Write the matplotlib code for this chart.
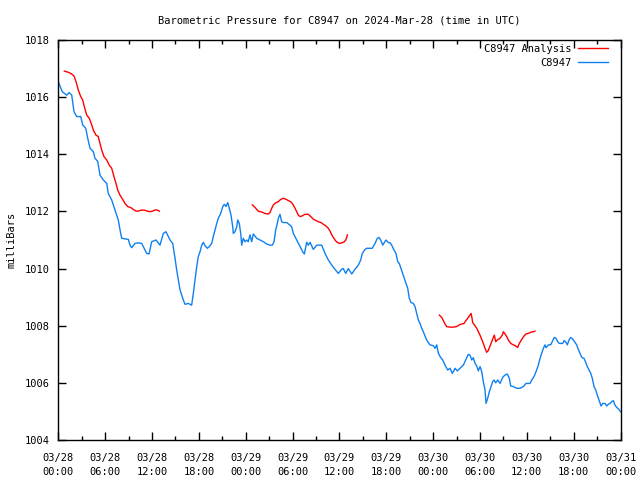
import matplotlib
matplotlib.use("Agg")
import matplotlib.pyplot as plt
from matplotlib.ticker import MultipleLocator

# hours since 2024-03-28 00:00 UTC
obs_hours = [0.0, 0.51, 1.08, 1.37, 1.72, 2.01, 2.36, 2.87, 3.12, 3.51, 3.77, 4.06, 4.48, 4.70, 5.05, 5.34,
             5.76, 6.20, 6.40, 6.84, 7.26, 7.68, 7.99, 8.12, 8.97, 9.18, 9.40, 9.82, 10.25, 10.68, 11.32,
             11.62, 11.96, 12.51, 13.02, 13.45, 13.79, 14.09, 14.31, 14.65, 14.95, 15.16, 15.37, 15.59,
             15.80, 16.01, 16.23, 16.65, 17.08, 17.29, 17.51, 17.73, 17.93, 18.15, 18.37, 18.57, 18.79,
             19.08, 19.34, 19.65, 19.85, 20.07, 20.29, 20.49, 20.80, 21.06, 21.26, 21.48, 21.70, 21.90,
             22.12, 22.34, 22.41, 22.63, 22.85, 22.98, 23.18, 23.36, 23.49, 23.69, 23.91, 24.13, 24.33,
             24.55, 24.77, 24.97, 25.41, 25.83, 26.26, 26.69, 27.11, 27.41, 27.63, 27.84, 28.05, 28.18,
             28.39, 28.61, 28.82, 29.25, 29.67, 29.89, 30.10, 30.53, 30.96, 31.30, 31.51, 31.81, 32.02,
             32.24, 32.66, 33.09, 33.73, 34.16, 34.58, 35.02, 35.44, 35.86, 36.30, 36.50, 36.81, 37.14,
             37.58, 37.99, 38.42, 38.73, 38.93, 39.28, 39.50, 40.21, 40.56, 40.86, 41.07, 41.29, 41.55,
             41.75, 41.97, 42.26, 42.48, 42.70, 42.99, 43.25, 43.47, 43.67, 43.89, 44.11, 44.31, 44.53,
             44.75, 44.95, 45.17, 45.47, 45.68, 45.90, 46.11, 46.32, 46.54, 46.75, 46.96, 47.18, 47.39,
             47.60, 48.03, 48.25, 48.46, 48.67, 48.89, 49.23, 49.53, 49.87, 50.17, 50.46, 50.81, 51.10,
             51.45, 51.87, 52.18, 52.51, 52.73, 52.95, 53.15, 53.37, 53.59, 53.79, 54.01, 54.23, 54.43,
             54.65, 54.78, 54.99, 55.20, 55.42, 55.63, 55.80, 56.02, 56.28, 56.57, 56.79, 56.99, 57.21,
             57.50, 57.76, 57.94, 58.27, 58.71, 59.13, 59.55, 59.90, 60.41, 60.63, 60.92, 61.18, 61.48,
             61.69, 61.91, 62.12, 62.33, 62.46, 62.76, 63.06, 63.32, 63.52, 63.74, 63.96, 64.16, 64.60,
             64.77, 65.02, 65.19, 65.44, 65.62, 65.88, 66.18, 66.39, 66.60, 66.82, 67.04, 67.33, 67.55,
             67.75, 67.97, 68.19, 68.39, 68.61, 68.83, 69.03, 69.25, 69.51, 69.72, 70.02, 70.23, 70.44,
             70.66, 70.87, 71.08, 71.30, 71.52, 71.81, 72.0]
obs_mb = [1016.54, 1016.19, 1016.07, 1016.16, 1016.07, 1015.49, 1015.32, 1015.32, 1015.03, 1014.91, 1014.56,
          1014.21, 1014.09, 1013.86, 1013.75, 1013.27, 1013.10, 1012.98, 1012.63, 1012.40, 1012.05, 1011.70,
          1011.23, 1011.06, 1011.02, 1010.82, 1010.73, 1010.88, 1010.90, 1010.88, 1010.53, 1010.51, 1010.94,
          1011.00, 1010.82, 1011.23, 1011.29, 1011.12, 1011.00, 1010.88, 1010.36, 1009.95, 1009.60, 1009.25,
          1009.07, 1008.90, 1008.75, 1008.78, 1008.72, 1009.13, 1009.60, 1010.07, 1010.42, 1010.59, 1010.82,
          1010.92, 1010.80, 1010.71, 1010.77, 1010.88, 1011.12, 1011.35, 1011.58, 1011.76, 1011.93, 1012.17,
          1012.25, 1012.17, 1012.31, 1012.11, 1011.87, 1011.46, 1011.23, 1011.29, 1011.46, 1011.70, 1011.58,
          1011.23, 1010.82, 1011.06, 1010.94, 1011.00, 1010.94, 1011.18, 1010.94, 1011.21, 1011.06, 1011.00,
          1010.94, 1010.86, 1010.82, 1010.82, 1010.94, 1011.35, 1011.58, 1011.76, 1011.90, 1011.64, 1011.61,
          1011.61, 1011.52, 1011.46, 1011.23, 1011.00, 1010.77, 1010.59, 1010.51, 1010.92, 1010.82, 1010.92,
          1010.67, 1010.82, 1010.82, 1010.53, 1010.30, 1010.12, 1009.97, 1009.83, 1009.98, 1010.00, 1009.83,
          1010.00, 1009.81, 1009.97, 1010.12, 1010.30, 1010.53, 1010.67, 1010.71, 1010.71, 1010.88, 1011.06,
          1011.09, 1011.00, 1010.82, 1010.91, 1011.00, 1010.91, 1010.91, 1010.82, 1010.65, 1010.53, 1010.24,
          1010.18, 1010.00, 1009.83, 1009.66, 1009.48, 1009.31, 1008.96, 1008.81, 1008.78, 1008.67, 1008.43,
          1008.20, 1008.08, 1007.91, 1007.79, 1007.64, 1007.50, 1007.41, 1007.33, 1007.30, 1007.21, 1007.33,
          1007.04, 1006.92, 1006.80, 1006.62, 1006.45, 1006.51, 1006.33, 1006.51, 1006.42, 1006.51, 1006.62,
          1006.80, 1007.00, 1006.97, 1006.80, 1006.88, 1006.68, 1006.59, 1006.42, 1006.57, 1006.39, 1006.04,
          1005.75, 1005.28, 1005.46, 1005.69, 1005.87, 1006.04, 1006.10, 1006.00, 1006.10, 1005.98, 1006.12,
          1006.22, 1006.27, 1006.31, 1006.16, 1005.89, 1005.87, 1005.81, 1005.81, 1005.87, 1005.98, 1005.98,
          1006.10, 1006.22, 1006.39, 1006.62, 1006.85, 1007.03, 1007.21, 1007.33, 1007.23, 1007.33, 1007.33,
          1007.48, 1007.59, 1007.56, 1007.44, 1007.38, 1007.38, 1007.48, 1007.42, 1007.33, 1007.52, 1007.59,
          1007.53, 1007.41, 1007.33, 1007.17, 1007.03, 1006.89, 1006.86, 1006.71, 1006.57, 1006.45, 1006.33,
          1006.16, 1005.87, 1005.75, 1005.57, 1005.40, 1005.19, 1005.28, 1005.28, 1005.19, 1005.25, 1005.28,
          1005.34, 1005.38, 1005.22, 1005.14, 1005.07, 1004.99]

ana1_hours = [0.77, 1.28, 1.72, 2.01, 2.27, 2.56, 2.87, 3.12, 3.33, 3.64, 3.97, 4.28, 4.48, 4.83, 5.12, 5.34,
              5.56, 5.85, 6.20, 6.53, 6.84, 7.13, 7.39, 7.61, 7.90, 8.25, 8.54, 8.89, 9.31, 9.61, 9.95, 10.25,
              10.68, 11.10, 11.40, 11.74, 12.09, 12.38, 12.68, 12.94]
ana1_mb = [1016.91, 1016.87, 1016.81, 1016.74, 1016.54, 1016.25, 1016.02, 1015.90, 1015.67, 1015.37, 1015.26,
           1015.03, 1014.85, 1014.67, 1014.62, 1014.38, 1014.15, 1013.92, 1013.80, 1013.62, 1013.51, 1013.22,
           1012.98, 1012.75, 1012.57, 1012.42, 1012.28, 1012.17, 1012.13, 1012.07, 1012.01, 1012.01, 1012.05,
           1012.04, 1012.01, 1011.99, 1012.01, 1012.05, 1012.05, 1012.01]

ana2_hours = [24.85, 25.19, 25.61, 26.05, 26.47, 26.90, 27.11, 27.33, 27.54, 27.88, 28.18, 28.48, 28.82, 29.12,
              29.46, 29.76, 30.02, 30.32, 30.53, 30.74, 30.96, 31.30, 31.60, 32.02, 32.33, 32.66, 33.00, 33.30,
              33.64, 33.94, 34.28, 34.58, 34.80, 35.02, 35.22, 35.44, 35.66, 35.99, 36.30, 36.59, 36.81, 36.94,
              37.02]
ana2_mb = [1012.23, 1012.14, 1012.01, 1011.98, 1011.93, 1011.91, 1011.96, 1012.11, 1012.23, 1012.31, 1012.34,
           1012.42, 1012.46, 1012.43, 1012.38, 1012.34, 1012.26, 1012.11, 1011.99, 1011.87, 1011.82, 1011.85,
           1011.90, 1011.90, 1011.82, 1011.73, 1011.68, 1011.64, 1011.61, 1011.55, 1011.49, 1011.41, 1011.31,
           1011.18, 1011.09, 1011.00, 1010.93, 1010.88, 1010.90, 1010.93, 1011.00, 1011.09, 1011.18]

ana3_hours = [48.80, 49.10, 49.31, 49.53, 49.74, 50.17, 50.59, 51.02, 51.36, 51.66, 51.96, 52.21, 52.43, 52.64,
              52.86, 52.95, 53.07, 53.28, 53.59, 53.79, 54.01, 54.23, 54.43, 54.65, 54.86, 55.07, 55.29, 55.51,
              55.71, 55.84, 56.02, 56.22, 56.57, 56.86, 56.99, 57.21, 57.43, 57.63, 57.94, 58.27, 58.58, 58.83,
              59.04, 59.35, 59.64, 59.90, 60.19, 60.50, 60.83, 61.05]
ana3_mb = [1008.37, 1008.29, 1008.18, 1008.06, 1007.97, 1007.95, 1007.95, 1007.97, 1008.03, 1008.06, 1008.08,
           1008.18, 1008.26, 1008.34, 1008.43, 1008.32, 1008.11, 1008.03, 1007.91, 1007.79, 1007.67, 1007.52,
           1007.38, 1007.21, 1007.07, 1007.13, 1007.29, 1007.44, 1007.59, 1007.67, 1007.44, 1007.50, 1007.56,
           1007.67, 1007.79, 1007.71, 1007.62, 1007.50, 1007.38, 1007.33, 1007.29, 1007.24, 1007.38, 1007.52,
           1007.64, 1007.71, 1007.73, 1007.77, 1007.79, 1007.81]

x_tick_hours = [0, 6, 12, 18, 24, 30, 36, 42, 48, 54, 60, 66, 72]
x_tick_labels = ["03/28\n00:00", "03/28\n06:00", "03/28\n12:00", "03/28\n18:00",
                 "03/29\n00:00", "03/29\n06:00", "03/29\n12:00", "03/29\n18:00",
                 "03/30\n00:00", "03/30\n06:00", "03/30\n12:00", "03/30\n18:00",
                 "03/31\n00:00"]
y_ticks = [1004, 1006, 1008, 1010, 1012, 1014, 1016, 1018]

RED = "#ff0000"
BLUE = "#1080f0"
FONT = "DejaVu Sans Mono"
FS = 7.5

fig = plt.figure(figsize=(6.4, 4.8), dpi=100)
ax = fig.add_axes([58.3 / 640, 40 / 480, (620.5 - 58.3) / 640, 400 / 480])

ax.plot(ana1_hours, ana1_mb, color=RED, lw=1, label="C8947 Analysis")
ax.plot(ana2_hours, ana2_mb, color=RED, lw=1)
ax.plot(ana3_hours, ana3_mb, color=RED, lw=1)
ax.plot(obs_hours, obs_mb, color=BLUE, lw=1, label="C8947")

ax.set_xlim(0, 72)
ax.set_ylim(1004, 1018)
ax.set_xticks(x_tick_hours)
ax.set_xticklabels(x_tick_labels, fontfamily=FONT, fontsize=FS, linespacing=1.55)
ax.xaxis.set_minor_locator(MultipleLocator(3))
ax.set_yticks(y_ticks)
ax.set_yticklabels([str(v) for v in y_ticks], fontfamily=FONT, fontsize=FS)
ax.tick_params(axis="both", which="both", direction="in", top=True, right=True, width=1)
ax.tick_params(axis="both", which="major", length=6, pad=6)
ax.tick_params(axis="x", which="major", pad=9)
ax.tick_params(axis="x", which="minor", length=3)
for s in ax.spines.values():
    s.set_linewidth(1)

ax.set_title("Barometric Pressure for C8947 on 2024-Mar-28 (time in UTC)",
             fontfamily=FONT, fontsize=FS, pad=12)
ax.set_ylabel("milliBars", fontfamily=FONT, fontsize=FS, labelpad=6)

leg = ax.legend(loc="upper right", bbox_to_anchor=(1 - 9 / 562, 1 - 1 / 400), frameon=False,
                markerfirst=False, prop={"family": FONT, "size": FS}, handlelength=2.9,
                borderaxespad=0.0, borderpad=0.3, labelspacing=0.35, handletextpad=0.6)
for t in leg.get_texts():
    t.set_ha("right")

fig.savefig("out.png", dpi=100)
